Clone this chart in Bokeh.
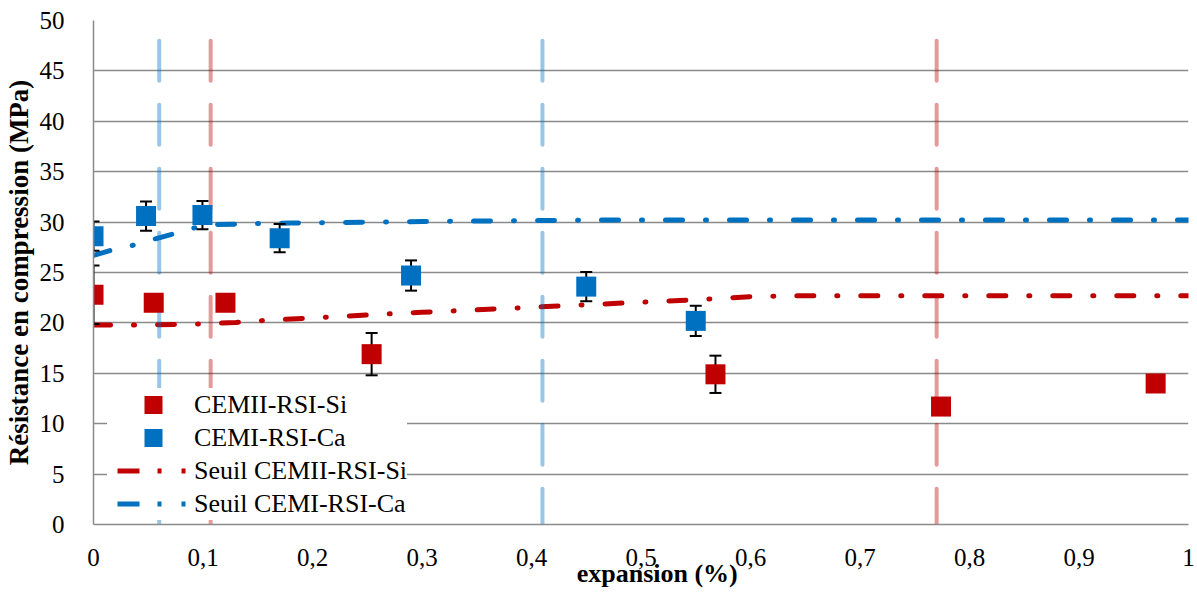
from bokeh.plotting import figure
from bokeh.models import Range1d, FixedTicker, Legend, LegendItem, ColumnDataSource
from bokeh.embed import file_html
from bokeh.resources import INLINE

# ---------------- data ----------------
si_x = [0.0, 0.055, 0.1205, 0.254, 0.568, 0.774, 0.970]
si_y = [22.8, 22.0, 22.0, 16.9, 14.9, 11.7, 14.0]
si_err = [2.9, 0.0, 0.0, 2.1, 1.85, 0.0, 0.0]

ca_x = [0.0, 0.048, 0.0995, 0.170, 0.290, 0.450, 0.550]
ca_y = [28.6, 30.6, 30.7, 28.4, 24.7, 23.6, 20.2]
ca_err = [1.45, 1.45, 1.4, 1.4, 1.5, 1.45, 1.5]

seuil_si_x = [0.0, 0.05, 0.10, 0.13, 0.15, 0.20, 0.27, 0.30, 0.35, 0.40, 0.45, 0.50, 0.55, 0.60, 0.65, 0.70, 1.0]
seuil_si_y = [19.8, 19.8, 19.9, 20.05, 20.2, 20.5, 20.9, 21.05, 21.3, 21.55, 21.8, 22.05, 22.3, 22.6, 22.7, 22.7, 22.7]

seuil_ca_x = [0.0, 0.016, 0.036, 0.055, 0.072, 0.091, 0.11, 0.13, 0.15, 0.18, 0.30, 0.45, 1.0]
seuil_ca_y = [26.7, 27.2, 27.7, 28.3, 28.8, 29.4, 29.75, 29.8, 29.85, 29.9, 30.05, 30.2, 30.2]

vline_x = [0.06, 0.107, 0.41, 0.77]
vline_series = ["Ca", "Si", "Ca", "Si"]
vline_top = 48.0

x_ticks = [0, 0.1, 0.2, 0.3, 0.4, 0.5, 0.6, 0.7, 0.8, 0.9, 1]
x_tick_labels = ["0", "0,1", "0,2", "0,3", "0,4", "0,5", "0,6", "0,7", "0,8", "0,9", "1"]
y_ticks = [0, 5, 10, 15, 20, 25, 30, 35, 40, 45, 50]

labels = ["CEMII-RSI-Si", "CEMI-RSI-Ca", "Seuil CEMII-RSI-Si", "Seuil CEMI-RSI-Ca"]
x_title = "expansion (%)"
y_title = "Résistance en compression (MPa)"

# ---------------- style ----------------
RED = "#C00000"
BLUE = "#0070C0"
GRAY = "#8a8a8a"
FONT = "Liberation Serif"
series_color = {"Si": RED, "Ca": BLUE}

p = figure(width=1197, height=593, output_backend="svg", toolbar_location=None,
           x_range=Range1d(0, 1), y_range=Range1d(0, 50),
           min_border_left=93, min_border_right=9, min_border_top=20, min_border_bottom=69)
p.outline_line_color = None
p.background_fill_color = "white"

p.xgrid.visible = False
p.ygrid.ticker = FixedTicker(ticks=y_ticks)
p.ygrid.grid_line_color = GRAY
p.ygrid.grid_line_width = 1.5

xa = p.xaxis[0]
ya = p.yaxis[0]
xa.ticker = FixedTicker(ticks=x_ticks)
xa.major_label_overrides = {t: s for t, s in zip(x_ticks, x_tick_labels)}
ya.ticker = FixedTicker(ticks=y_ticks)
for ax in (xa, ya):
    ax.major_tick_line_color = None
    ax.minor_tick_line_color = None
    ax.axis_line_color = GRAY
    ax.axis_line_width = 1.5
    ax.major_label_text_font = FONT
    ax.major_label_text_font_size = "25px"
    ax.major_label_text_color = "black"
    ax.axis_label_text_font = FONT
    ax.axis_label_text_font_style = "bold"
    ax.axis_label_text_color = "black"

xa.major_label_standoff = 18
xa.axis_label = "\u00a0\u00a0\u00a0\u00a0\u00a0" + x_title
xa.axis_label_text_font_size = "26px"
xa.axis_label_standoff = -10

ya.major_label_standoff = 23
ya.axis_label = y_title
ya.axis_label_text_font_size = "27px"
ya.axis_label_standoff = 3

# threshold curves
dash_pattern = "17 23 1 23"
p.line(seuil_si_x, seuil_si_y, line_color=RED, line_width=5, line_dash=dash_pattern, line_cap="round")
p.line(seuil_ca_x, seuil_ca_y, line_color=BLUE, line_width=5, line_dash=dash_pattern, line_cap="round")

# vertical dashed markers
p.multi_line(xs=[[x, x] for x in vline_x], ys=[[vline_top, 0] for _ in vline_x],
             line_color=[series_color[s] for s in vline_series], line_alpha=0.4,
             line_width=4, line_dash="40 24", line_cap="round")

# error bars
for xs, ys, es in ((si_x, si_y, si_err), (ca_x, ca_y, ca_err)):
    src = ColumnDataSource(dict(x=xs, lo=[y - e for y, e in zip(ys, es)], hi=[y + e for y, e in zip(ys, es)]))
    p.segment(x0="x", y0="lo", x1="x", y1="hi", source=src, line_color="black", line_width=2)
    p.scatter(x="x", y="lo", source=src, marker="dash", size=12, line_color="black", line_width=2)
    p.scatter(x="x", y="hi", source=src, marker="dash", size=12, line_color="black", line_width=2)

# squares
p.scatter(si_x, si_y, marker="square", size=20, fill_color=RED, line_color=None)
p.scatter(ca_x, ca_y, marker="square", size=20, fill_color=BLUE, line_color=None)

# legend swatches: single-point lines (draw nothing in the plot) styled for the legend
lg_si = p.line(x=si_x[:1], y=si_y[:1], line_color=RED, line_width=18, line_dash="0 37 18 100", line_cap="butt")
lg_ca = p.line(x=ca_x[:1], y=ca_y[:1], line_color=BLUE, line_width=18, line_dash="0 37 18 100", line_cap="butt")
lg_ssi = p.line(x=seuil_si_x[:1], y=seuil_si_y[:1], line_color=RED, line_width=5,
                line_dash="0 10 22 18 4 20 4 100", line_cap="butt")
lg_sca = p.line(x=seuil_ca_x[:1], y=seuil_ca_y[:1], line_color=BLUE, line_width=5,
                line_dash="0 10 22 18 4 20 4 100", line_cap="butt")

legend = Legend(items=[LegendItem(label=l, renderers=[r]) for l, r in zip(labels, [lg_si, lg_ca, lg_ssi, lg_sca])],
                location=(14, 4), padding=5, spacing=0, margin=0,
                glyph_width=83, glyph_height=33, label_height=33, label_standoff=4,
                background_fill_color="white", background_fill_alpha=1.0, border_line_color=None,
                label_text_font=FONT, label_text_font_size="26px", label_text_color="black")
p.add_layout(legend)

open("out.html", "w").write(file_html(p, INLINE))
